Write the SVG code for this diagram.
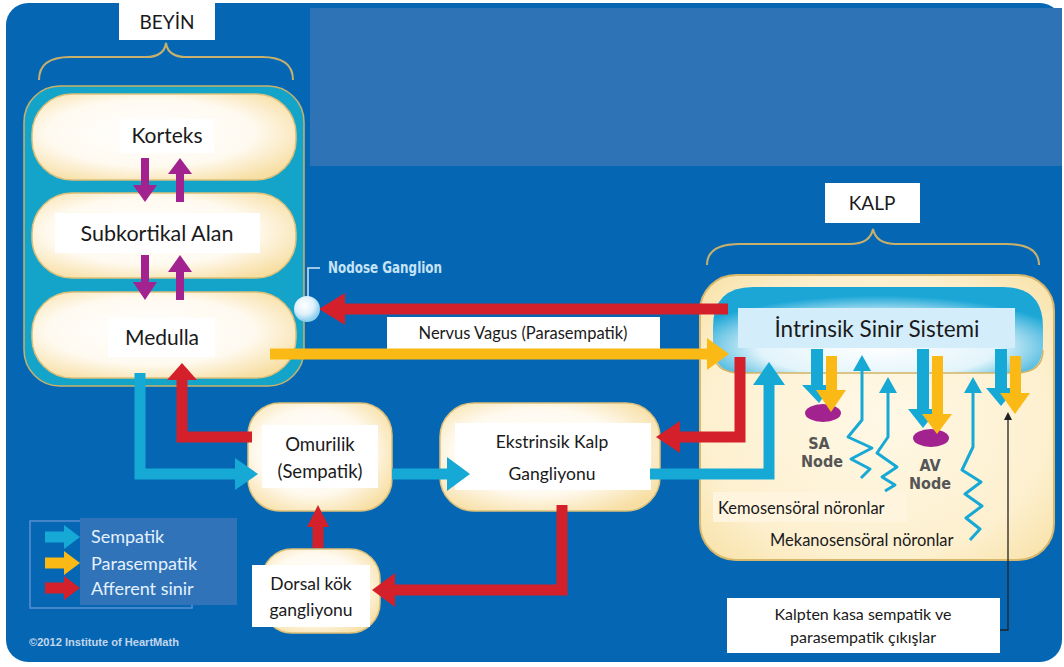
<svg xmlns="http://www.w3.org/2000/svg" width="1064" height="667" viewBox="0 0 1064 667">
<defs>
<style>
.lbl{font-family:Lato,"Liberation Sans",sans-serif;fill:#1a1a1a;text-anchor:middle}
.wbox{fill:#ffffff}
.node{fill:url(#cream);stroke:#dcc07a;stroke-width:1.5}
.teal{fill:#17a9d6}
.yel{fill:#fbb915}
.red{fill:#d3202a}
.pur{fill:#a2238f}
.tl{stroke:#17a9d6;stroke-width:11;fill:none}
.yl{stroke:#fbb915;stroke-width:11;fill:none}
.rl{stroke:#d3202a;stroke-width:11;fill:none}
.wave{stroke:#17a9d6;stroke-width:3;fill:none;stroke-linejoin:round}
.cond{font-family:"DejaVu Sans Condensed","Liberation Sans Narrow","Liberation Sans",sans-serif;font-weight:bold;text-anchor:middle}
.leg{font-family:Lato,"Liberation Sans",sans-serif;fill:#e4f1ff;font-size:18px}
.brace{fill:none;stroke:#c9b06a;stroke-width:2}
</style>
<radialGradient id="cream" cx="0.45" cy="0.45" r="0.65">
<stop offset="0" stop-color="#ffffff"/>
<stop offset="0.6" stop-color="#fffaf0"/>
<stop offset="1" stop-color="#f7dea2"/>
</radialGradient>
<radialGradient id="heartg" cx="0.5" cy="0.5" r="0.7">
<stop offset="0" stop-color="#fff8e6"/>
<stop offset="0.7" stop-color="#fdf0cf"/>
<stop offset="1" stop-color="#f8e1a6"/>
</radialGradient>
<radialGradient id="intr" cx="0.5" cy="0.7" r="0.6">
<stop offset="0" stop-color="#ffffff"/>
<stop offset="0.6" stop-color="#e2f4fb"/>
<stop offset="1" stop-color="#1ba6d6"/>
</radialGradient>
<radialGradient id="sphere" cx="0.4" cy="0.35" r="0.6">
<stop offset="0" stop-color="#ffffff"/>
<stop offset="0.6" stop-color="#dff1fb"/>
<stop offset="1" stop-color="#8fd0ef"/>
</radialGradient>
</defs>

<rect x="0" y="0" width="1064" height="667" fill="#ffffff"/>
<rect x="6" y="3" width="1056" height="659" rx="22" fill="#0567b4"/>
<rect x="310" y="8" width="752" height="158" fill="#2e73b6"/>

<g id="beyin-label">
<rect x="119" y="3" width="96" height="37" class="wbox"/>
<text x="167" y="29" class="lbl" font-size="19">BEYİN</text>
<path class="brace" d="M39,80 Q39,57 70,57 L146,57 Q164,57 166,43 Q168,57 186,57 L262,57 Q293,57 293,80"/>
</g>

<g id="brain">
<rect x="24" y="86" width="280" height="300" rx="36" fill="#14a4ca" stroke="#c9b26b" stroke-width="1.5"/>
</g>

<g id="korteks">
<rect x="32" y="94" width="264" height="86" rx="40" class="node"/>
<rect x="120" y="119" width="94" height="34" class="wbox"/>
<text x="167" y="143" class="lbl" font-size="21">Korteks</text>
</g>
<g id="subkortikal">
<rect x="32" y="193" width="264" height="85" rx="40" class="node"/>
<rect x="55" y="213" width="205" height="40" class="wbox"/>
<text x="157" y="241" class="lbl" font-size="21.5">Subkortikal Alan</text>
</g>
<g id="medulla">
<rect x="32" y="292" width="264" height="86" rx="40" class="node"/>
<rect x="108" y="318" width="107" height="39" class="wbox"/>
<text x="162" y="345" class="lbl" font-size="21">Medulla</text>
</g>

<g id="nodose">
<path d="M308,298 V268 H320" fill="none" stroke="#cfe6f6" stroke-width="1.5"/>
<text x="385" y="273" class="cond" font-size="15" fill="#c6e3f6" textLength="114" lengthAdjust="spacingAndGlyphs">Nodose Ganglion</text>
</g>

<g id="nervus-vagus-label">
<rect x="387" y="317" width="273" height="33" class="wbox"/>
<text x="523" y="339" class="lbl" font-size="16.5">Nervus Vagus (Parasempatik)</text>
</g>

<g id="omurilik">
<rect x="248" y="403" width="144" height="108" rx="32" class="node"/>
<rect x="262" y="425" width="116" height="63" class="wbox"/>
<text x="320" y="451" class="lbl" font-size="18.5">Omurilik</text>
<text x="320" y="478" class="lbl" font-size="18.5">(Sempatik)</text>
</g>

<g id="ekstrinsik">
<rect x="440" y="403" width="220" height="108" rx="34" class="node"/>
<rect x="455" y="423" width="196" height="67" class="wbox"/>
<text x="552" y="448" class="lbl" font-size="17.5">Ekstrinsik Kalp</text>
<text x="552" y="480" class="lbl" font-size="17.5">Gangliyonu</text>
</g>

<g id="dorsal">
<rect x="262" y="549" width="118" height="84" rx="30" class="node"/>
<rect x="252" y="565" width="118" height="62" class="wbox"/>
<text x="311" y="590" class="lbl" font-size="17.5">Dorsal kök</text>
<text x="311" y="616" class="lbl" font-size="17.5">gangliyonu</text>
</g>

<g id="kalp-label">
<rect x="825" y="183" width="95" height="40" class="wbox"/>
<text x="872" y="210" class="lbl" font-size="19">KALP</text>
<path class="brace" d="M707,265 Q707,244 740,244 L850,244 Q870,244 873,229 Q876,244 896,244 L1006,244 Q1039,244 1039,265"/>
</g>

<g id="kalp">
<rect x="700" y="275" width="354" height="285" rx="36" fill="url(#heartg)" stroke="#d8b86a" stroke-width="2"/>
<rect x="713" y="492" width="194" height="30" fill="#fff5df"/>
<text x="718" y="514" font-family="Lato,'Liberation Sans',sans-serif" font-size="16.5" fill="#1a1a1a">Kemosensöral nöronlar</text>
<text x="770" y="546" font-family="Lato,'Liberation Sans',sans-serif" font-size="16.5" fill="#1a1a1a">Mekanosensöral nöronlar</text>
</g>

<g id="intrinsik">
<path d="M753,287 H1003 Q1043,287 1043,327 V345 Q1043,373 1015,373 H741 Q713,373 713,345 V327 Q713,287 753,287 Z" fill="url(#intr)"/>
<path d="M713,350 Q713,373 741,373 H1015 Q1043,373 1043,350" fill="none" stroke="#d3b466" stroke-width="1.5"/>
<rect x="738" y="308" width="277" height="40" fill="#d3edfb"/>
<text x="877" y="337" class="lbl" font-size="22.5">İntrinsik Sinir Sistemi</text>
</g>

<g id="sa-node">
<ellipse cx="823" cy="413" rx="18" ry="9" class="pur"/>
<text x="819" y="449" class="cond" font-size="16" fill="#555555">SA</text>
<text x="822" y="467" class="cond" font-size="16" fill="#555555">Node</text>
</g>
<g id="av-node">
<ellipse cx="931" cy="438" rx="18" ry="9" class="pur"/>
<text x="930" y="471" class="cond" font-size="16" fill="#555555">AV</text>
<text x="930" y="489" class="cond" font-size="16" fill="#555555">Node</text>
</g>

<g id="kalpten-label">
<rect x="727" y="598" width="273" height="55" class="wbox"/>
<text x="863" y="620" class="lbl" font-size="16">Kalpten kasa sempatik ve</text>
<text x="863" y="643" class="lbl" font-size="16">parasempatik çıkışlar</text>
</g>

<g id="legend">
<rect x="30" y="521" width="162" height="87" fill="none" stroke="#5b8fd0" stroke-width="1.5"/>
<rect x="80" y="518" width="157" height="87" fill="#3173b8"/>
<path class="tl" d="M45,537 H66"/>
<polygon class="teal" points="64,525 80,537 64,549"/>
<path class="yl" d="M45,563 H66"/>
<polygon class="yel" points="64,551 80,563 64,575"/>
<path class="rl" d="M45,588 H66"/>
<polygon class="red" points="64,576 80,588 64,600"/>
<text x="91" y="543" class="leg">Sempatik</text>
<text x="91" y="570" class="leg">Parasempatik</text>
<text x="91" y="595" class="leg">Afferent sinir</text>
</g>

<text x="29" y="646" font-family="'Liberation Sans',sans-serif" font-weight="bold" font-size="10" fill="#c3d6ec" textLength="150" lengthAdjust="spacingAndGlyphs">©2012 Institute of HeartMath</text>

<g id="connectors">
<rect x="141" y="158" width="8" height="28" class="pur"/>
<polygon class="pur" points="133,185 157,185 145,202"/>
<rect x="176" y="173" width="8" height="29" class="pur"/>
<polygon class="pur" points="168,174 192,174 180,158"/>
<rect x="141" y="255" width="8" height="28" class="pur"/>
<polygon class="pur" points="133,282 157,282 145,300"/>
<rect x="176" y="271" width="8" height="29" class="pur"/>
<polygon class="pur" points="168,272 192,272 180,255"/>

<path class="rl" d="M728,309 H343"/>
<polygon class="red" points="345,293 345,325 319,309"/>
<path class="yl" d="M270,354 H709"/>
<polygon class="yel" points="707,338 707,370 729,354"/>

<path class="tl" d="M140,373 V474 H237"/>
<polygon class="teal" points="235,458 235,490 258,474"/>
<path class="rl" d="M252,437 H182 V378"/>
<polygon class="red" points="167,380 197,380 182,363"/>
<path class="tl" d="M392,474 H449"/>
<polygon class="teal" points="447,457 447,491 470,474"/>
<path class="rl" d="M562,505 V590 H393"/>
<polygon class="red" points="395,573 395,607 372,590"/>
<path class="rl" d="M318,548 V525"/>
<polygon class="red" points="307,527 329,527 318,505"/>
<path class="tl" d="M650,474 H769 V383"/>
<polygon class="teal" points="753,385 785,385 769,362"/>
<path class="rl" d="M740,357 V437 H678"/>
<polygon class="red" points="680,421 680,453 656,437"/>

<rect x="811" y="349" width="12" height="38" class="teal"/>
<polygon class="teal" points="802,385 832,385 819,403"/>
<rect x="826" y="356" width="11" height="36" class="yel"/>
<polygon class="yel" points="816,390 846,390 831,412"/>
<rect x="917" y="349" width="12" height="62" class="teal"/>
<polygon class="teal" points="908,409 938,409 923,428"/>
<rect x="932" y="356" width="11" height="60" class="yel"/>
<polygon class="yel" points="922,414 952,414 937,434"/>
<rect x="995" y="349" width="12" height="41" class="teal"/>
<polygon class="teal" points="986,388 1016,388 1001,406"/>
<rect x="1010" y="356" width="11" height="38" class="yel"/>
<polygon class="yel" points="1000,393 1030,393 1015,414"/>

<path class="wave" d="M862,368 V420 L848,437 L872,448 L851,459 L870,469 L861,478"/>
<polygon class="teal" points="853,371 871,371 862,355"/>
<path class="wave" d="M888,390 V437 L877,453 L897,467 L882,477 L895,485 L885,491"/>
<polygon class="teal" points="879,393 897,393 888,377"/>
<path class="wave" d="M973,390 V447 L962,470 L981,482 L965,494 L982,506 L966,518 L980,529 L970,540"/>
<polygon class="teal" points="964,393 982,393 973,377"/>

<path d="M1000,630 H1008 V418" fill="none" stroke="#222222" stroke-width="1.3"/>
<polygon points="1004,420 1012,420 1008,412" fill="#222222"/>
</g>

<g id="nodose-sphere">
<circle cx="307" cy="309" r="13" fill="url(#sphere)"/>
</g>
</svg>
